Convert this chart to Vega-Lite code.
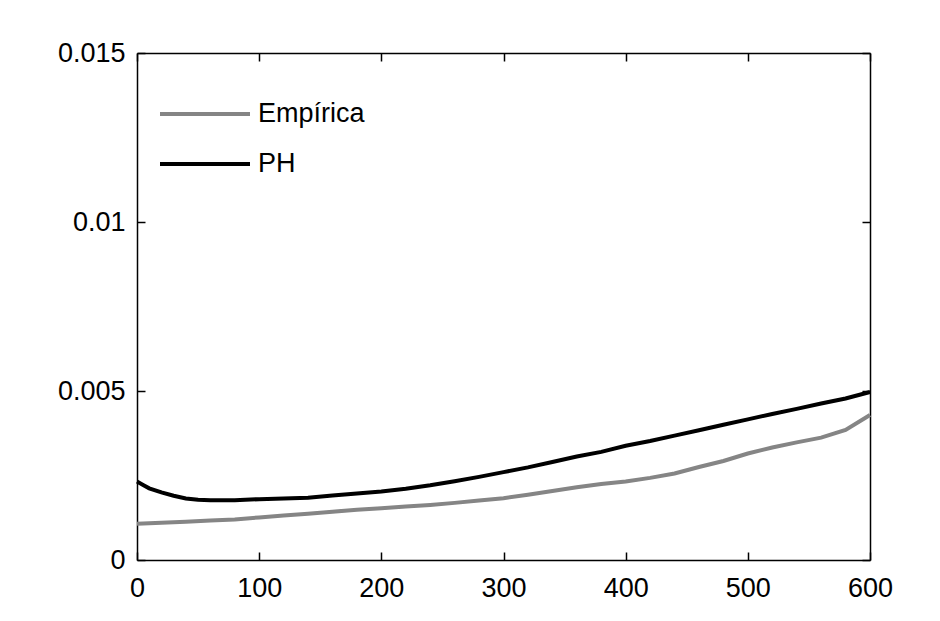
{
  "$schema": "https://vega.github.io/schema/vega-lite/v6.json",
  "width": 733,
  "height": 507,
  "autosize": {"type": "none"},
  "padding": {"left": 137, "top": 53, "right": 70, "bottom": 61},
  "background": "#ffffff",
  "config": {
    "view": {"stroke": null},
    "font": "Liberation Sans",
    "axis": {
      "grid": false,
      "domainColor": "#000000",
      "domainWidth": 1.5,
      "tickColor": "#000000",
      "tickWidth": 1.5,
      "tickSize": -8,
      "labelFont": "Liberation Sans",
      "labelFontSize": 27,
      "labelColor": "#000000",
      "labelFlush": false,
      "labelOverlap": false,
      "title": null
    }
  },
  "data": {
    "values": [
      {"x": 0, "y": 0.00107, "serie": "Empírica"},
      {"x": 20, "y": 0.00110, "serie": "Empírica"},
      {"x": 40, "y": 0.00113, "serie": "Empírica"},
      {"x": 60, "y": 0.00117, "serie": "Empírica"},
      {"x": 80, "y": 0.00120, "serie": "Empírica"},
      {"x": 100, "y": 0.00126, "serie": "Empírica"},
      {"x": 120, "y": 0.00132, "serie": "Empírica"},
      {"x": 140, "y": 0.00137, "serie": "Empírica"},
      {"x": 160, "y": 0.00143, "serie": "Empírica"},
      {"x": 180, "y": 0.00149, "serie": "Empírica"},
      {"x": 200, "y": 0.00153, "serie": "Empírica"},
      {"x": 220, "y": 0.00158, "serie": "Empírica"},
      {"x": 240, "y": 0.00163, "serie": "Empírica"},
      {"x": 260, "y": 0.00169, "serie": "Empírica"},
      {"x": 280, "y": 0.00176, "serie": "Empírica"},
      {"x": 300, "y": 0.00183, "serie": "Empírica"},
      {"x": 320, "y": 0.00193, "serie": "Empírica"},
      {"x": 340, "y": 0.00204, "serie": "Empírica"},
      {"x": 360, "y": 0.00215, "serie": "Empírica"},
      {"x": 380, "y": 0.00225, "serie": "Empírica"},
      {"x": 400, "y": 0.00232, "serie": "Empírica"},
      {"x": 420, "y": 0.00243, "serie": "Empírica"},
      {"x": 440, "y": 0.00256, "serie": "Empírica"},
      {"x": 460, "y": 0.00275, "serie": "Empírica"},
      {"x": 480, "y": 0.00293, "serie": "Empírica"},
      {"x": 500, "y": 0.00315, "serie": "Empírica"},
      {"x": 520, "y": 0.00333, "serie": "Empírica"},
      {"x": 540, "y": 0.00348, "serie": "Empírica"},
      {"x": 560, "y": 0.00362, "serie": "Empírica"},
      {"x": 580, "y": 0.00385, "serie": "Empírica"},
      {"x": 600, "y": 0.00429, "serie": "Empírica"},
      {"x": 0, "y": 0.00232, "serie": "PH"},
      {"x": 5, "y": 0.00222, "serie": "PH"},
      {"x": 10, "y": 0.00212, "serie": "PH"},
      {"x": 20, "y": 0.00200, "serie": "PH"},
      {"x": 30, "y": 0.00190, "serie": "PH"},
      {"x": 40, "y": 0.00182, "serie": "PH"},
      {"x": 50, "y": 0.00178, "serie": "PH"},
      {"x": 60, "y": 0.00177, "serie": "PH"},
      {"x": 80, "y": 0.00177, "serie": "PH"},
      {"x": 100, "y": 0.00180, "serie": "PH"},
      {"x": 120, "y": 0.00182, "serie": "PH"},
      {"x": 140, "y": 0.00184, "serie": "PH"},
      {"x": 160, "y": 0.00191, "serie": "PH"},
      {"x": 180, "y": 0.00197, "serie": "PH"},
      {"x": 200, "y": 0.00203, "serie": "PH"},
      {"x": 220, "y": 0.00211, "serie": "PH"},
      {"x": 240, "y": 0.00221, "serie": "PH"},
      {"x": 260, "y": 0.00233, "serie": "PH"},
      {"x": 280, "y": 0.00246, "serie": "PH"},
      {"x": 300, "y": 0.00260, "serie": "PH"},
      {"x": 320, "y": 0.00274, "serie": "PH"},
      {"x": 340, "y": 0.00290, "serie": "PH"},
      {"x": 360, "y": 0.00306, "serie": "PH"},
      {"x": 380, "y": 0.00320, "serie": "PH"},
      {"x": 400, "y": 0.00338, "serie": "PH"},
      {"x": 420, "y": 0.00352, "serie": "PH"},
      {"x": 440, "y": 0.00368, "serie": "PH"},
      {"x": 460, "y": 0.00384, "serie": "PH"},
      {"x": 480, "y": 0.00400, "serie": "PH"},
      {"x": 500, "y": 0.00416, "serie": "PH"},
      {"x": 520, "y": 0.00432, "serie": "PH"},
      {"x": 540, "y": 0.00447, "serie": "PH"},
      {"x": 560, "y": 0.00463, "serie": "PH"},
      {"x": 580, "y": 0.00478, "serie": "PH"},
      {"x": 600, "y": 0.00497, "serie": "PH"}
    ]
  },
  "resolve": {"axis": {"x": "independent", "y": "independent"}},
  "layer": [
    {
      "mark": {"type": "line", "strokeWidth": 4},
      "encoding": {
        "x": {"field": "x", "type": "quantitative", "scale": {"domain": [0, 600], "nice": false, "zero": false},
              "axis": {"orient": "bottom", "values": [0, 100, 200, 300, 400, 500, 600], "labelPadding": 23}},
        "y": {"field": "y", "type": "quantitative", "scale": {"domain": [0, 0.015], "nice": false},
              "axis": {"orient": "left", "values": [0, 0.005, 0.01, 0.015], "labelExpr": "datum.value == 0 ? '0' : format(datum.value, '.3~f')", "labelPadding": 20}},
        "color": {
          "field": "serie", "type": "nominal",
          "scale": {"domain": ["Empírica", "PH"], "range": ["#858585", "#000000"]},
          "legend": {
            "title": null,
            "orient": "none",
            "legendX": 21,
            "legendY": 50,
            "symbolType": "stroke",
            "symbolSize": 8100,
            "symbolStrokeWidth": 4,
            "clipHeight": 22,
            "rowPadding": 23,
            "labelOffset": 6,
            "labelFont": "Liberation Sans",
            "labelFontSize": 27,
            "labelColor": "#000000"
          }
        }
      }
    },
    {
      "mark": {"type": "line", "opacity": 0},
      "encoding": {
        "x": {"field": "x", "type": "quantitative", "scale": {"domain": [0, 600], "nice": false, "zero": false},
              "axis": {"orient": "top", "values": [0, 100, 200, 300, 400, 500, 600], "labels": false}},
        "y": {"field": "y", "type": "quantitative", "scale": {"domain": [0, 0.015], "nice": false},
              "axis": {"orient": "right", "values": [0, 0.005, 0.01, 0.015], "labels": false}}
      }
    }
  ]
}
